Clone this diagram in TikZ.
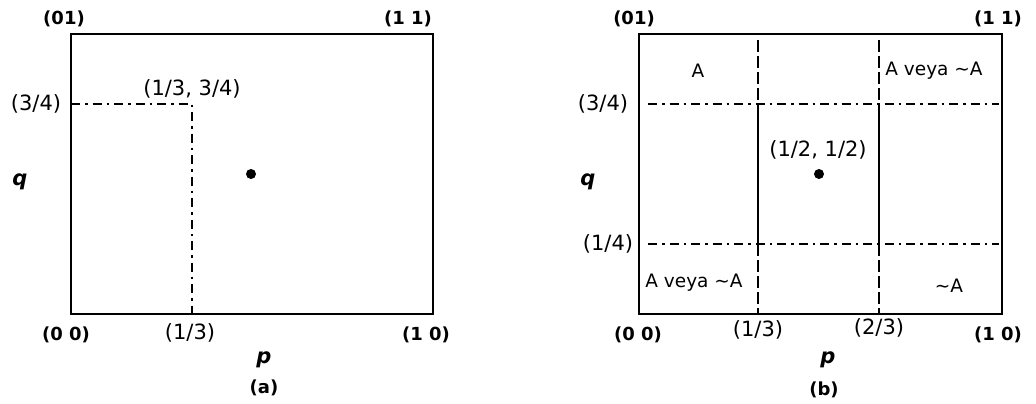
\documentclass[tikz,border=0pt]{standalone}
\usepackage{fontspec}
\setmainfont{DejaVu Sans}
\usetikzlibrary{positioning, calc}
\tikzset{
  frame/.style    = {draw=black, line width=2.7pt},
  dashdot/.style  = {line width=2pt, dash pattern=on 9pt off 5pt on 2.5pt off 5pt},
  dashln/.style   = {line width=2pt, dash pattern=on 12pt off 4pt},
  solidln/.style  = {line width=2pt},
  corner/.style   = {inner sep=0pt, font=\fontsize{18}{20}\selectfont\bfseries},
  tick/.style     = {inner sep=0pt, font=\fontsize{21}{24}\selectfont},
  axislbl/.style  = {inner sep=0pt, font=\fontsize{21}{24}\selectfont\bfseries\itshape},
  region/.style   = {inner sep=0pt, font=\fontsize{18.5}{22}\selectfont},
  panel/.style    = {inner sep=0pt, font=\fontsize{18}{20}\selectfont\bfseries},
  dot/.style      = {circle, fill=black, inner sep=0pt, minimum width=10pt, minimum height=8.5pt},
}

\begin{document}
\begin{tikzpicture}[x=1pt, y=-1pt]
  \useasboundingbox (0,0) rectangle (1036,404);

  % ---------- panel (a) ----------
  \coordinate (a00) at (71,314);
  \coordinate (a11) at (433,34);
  \coordinate (aq)  at (71,104);
  \coordinate (ap)  at (192,314);
  \coordinate (ak)  at (192,104);
  \draw[frame] (a00) rectangle (a11);
  \draw[dashdot] (aq) -- (ak) -- (ap);
  \node[dot] (adot) at (251,174) {};

  % corner labels
  \node[corner] (a01)  at (64,19)  {(01)};
  \node[corner] (a11l) at (408,19) {(1 1)};
  \node[corner] (a00l) at (66,335) {(0 0)};
  \node[corner] (a10l) at (426,335) {(1 0)};

  % ticks
  \node[tick] (aqt)  at (36,104)  {(3/4)};
  \node[tick] (apt)  at (190,333) {(1/3)};
  \node[tick] (akt)  at (192,89)  {(1/3, 3/4)};

  % axes
  \node[axislbl] (aql) at (20,182)  {q};
  \node[axislbl] (apl) at (264,360) {p};
  \node[panel, below=28pt of apl.center, anchor=center] (acap) {(a)};

  % ---------- panel (b) ----------
  \coordinate (b00) at (639,314);
  \coordinate (b11) at (1002,34);
  \draw[frame] (b00) rectangle (b11);

  % vertical lines at 1/3 and 2/3
  \coordinate (v1t) at (758,40);  \coordinate (v1u) at (758,104);
  \coordinate (v1l) at (758,244); \coordinate (v1b) at (758,314);
  \coordinate (v2t) at (879,40);  \coordinate (v2u) at (879,104);
  \coordinate (v2l) at (879,244); \coordinate (v2b) at (879,314);
  \draw[dashln]  (v1t) -- (v1u);
  \draw[solidln] (v1u) -- (v1l);
  \draw[dashln]  (v1l) -- (v1b);
  \draw[dashln]  (v2t) -- (v2u);
  \draw[solidln] (v2u) -- (v2l);
  \draw[dashln]  (v2l) -- (v2b);

  % horizontal lines at 3/4 and 1/4
  \coordinate (h1l) at (648,104); \coordinate (h1r) at (999,104);
  \coordinate (h2l) at (648,244); \coordinate (h2r) at (999,244);
  \draw[dashdot] (h1l) -- (h1r);
  \draw[dashdot] (h2l) -- (h2r);

  \node[dot] (bdot) at (819,174) {};

  % corner labels
  \node[corner] (b01)  at (634,19)  {(01)};
  \node[corner] (b11l) at (998,19)  {(1 1)};
  \node[corner] (b00l) at (638,335) {(0 0)};
  \node[corner] (b10l) at (998,335) {(1 0)};

  % ticks
  \node[tick] (bq3) at (603,104) {(3/4)};
  \node[tick] (bq1) at (608,244) {(1/4)};
  \node[tick] (bp1) at (758,330) {(1/3)};
  \node[tick] (bp2) at (879,328) {(2/3)};
  \node[tick] (bmid) at (818,150) {(1/2, 1/2)};

  % regions
  \node[region] (rA)   at (698,71)  {A};
  \node[region] (rAA1) at (934,71)  {A veya \textasciitilde A};
  \node[region] (rAA2) at (694,283) {A veya \textasciitilde A};
  \node[region] (rnA)  at (949,286) {\textasciitilde A};

  % axes
  \node[axislbl] (bql) at (588,182) {q};
  \node[axislbl] (bpl) at (828,360) {p};
  \node[panel, below=30pt of bpl.center, anchor=center, xshift=-4pt] (bcap) {(b)};
\end{tikzpicture}
\end{document}
